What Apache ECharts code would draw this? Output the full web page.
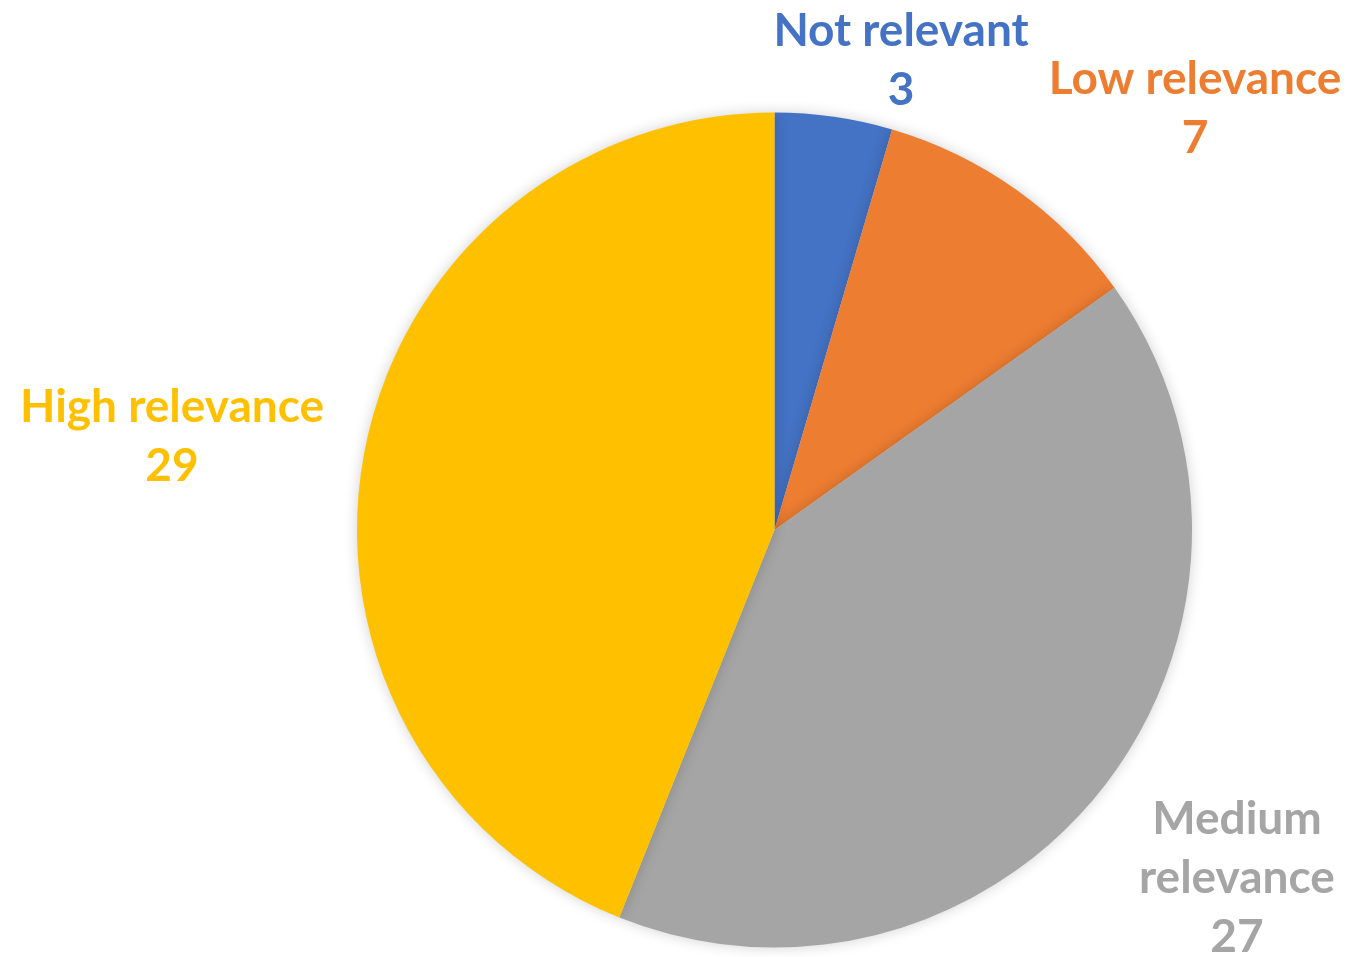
<!DOCTYPE html>
<html>
<head>
<meta charset="utf-8">
<script src="https://cdn.jsdelivr.net/npm/echarts@6/dist/echarts.min.js"></script>
<style>
html,body{margin:0;padding:0;background:#fff;}
#chart{width:1351px;height:957px;}
</style>
</head>
<body>
<div id="chart"></div>
<script>
const categories = ["Not relevant", "Low relevance", "Medium relevance", "High relevance"];
const values = [3, 7, 27, 29];
const colors = ["#4472C4", "#ED7D31", "#A5A5A5", "#FFC000"];
const labelText = ["Not relevant", "Low relevance", "Medium\nrelevance", "High relevance"];

const labelPos = [[901, 61], [1195, 109], [1237, 878], [172, 437]];

const chart = echarts.init(document.getElementById('chart'), null, {renderer: 'canvas'});
chart.setOption({
  backgroundColor: '#ffffff',
  animation: false,
  series: [{
    type: 'pie',
    center: [774.5, 530],
    radius: [0, 417.5],
    startAngle: 90,
    clockwise: true,
    avoidLabelOverlap: false,
    data: categories.map((c, i) => ({
      name: c,
      value: values[i],
      itemStyle: {color: colors[i]},
      label: {color: colors[i]}
    })),
    itemStyle: {
      borderWidth: 0,
      shadowBlur: 14,
      shadowColor: 'rgba(0,0,0,0.18)',
      shadowOffsetX: 0,
      shadowOffsetY: 0
    },
    label: {
      show: true,
      position: 'outside',
      fontFamily: 'Lato',
      fontWeight: 'bold',
      fontSize: 46,
      lineHeight: 59,
      align: 'center',
      formatter: p => labelText[p.dataIndex] + '\n' + p.value
    },
    labelLine: {show: false},
    labelLayout: function (params) {
      const p = labelPos[params.dataIndex];
      return {x: p[0], y: p[1], align: 'center', verticalAlign: 'middle'};
    }
  }]
});
</script>
</body>
</html>
